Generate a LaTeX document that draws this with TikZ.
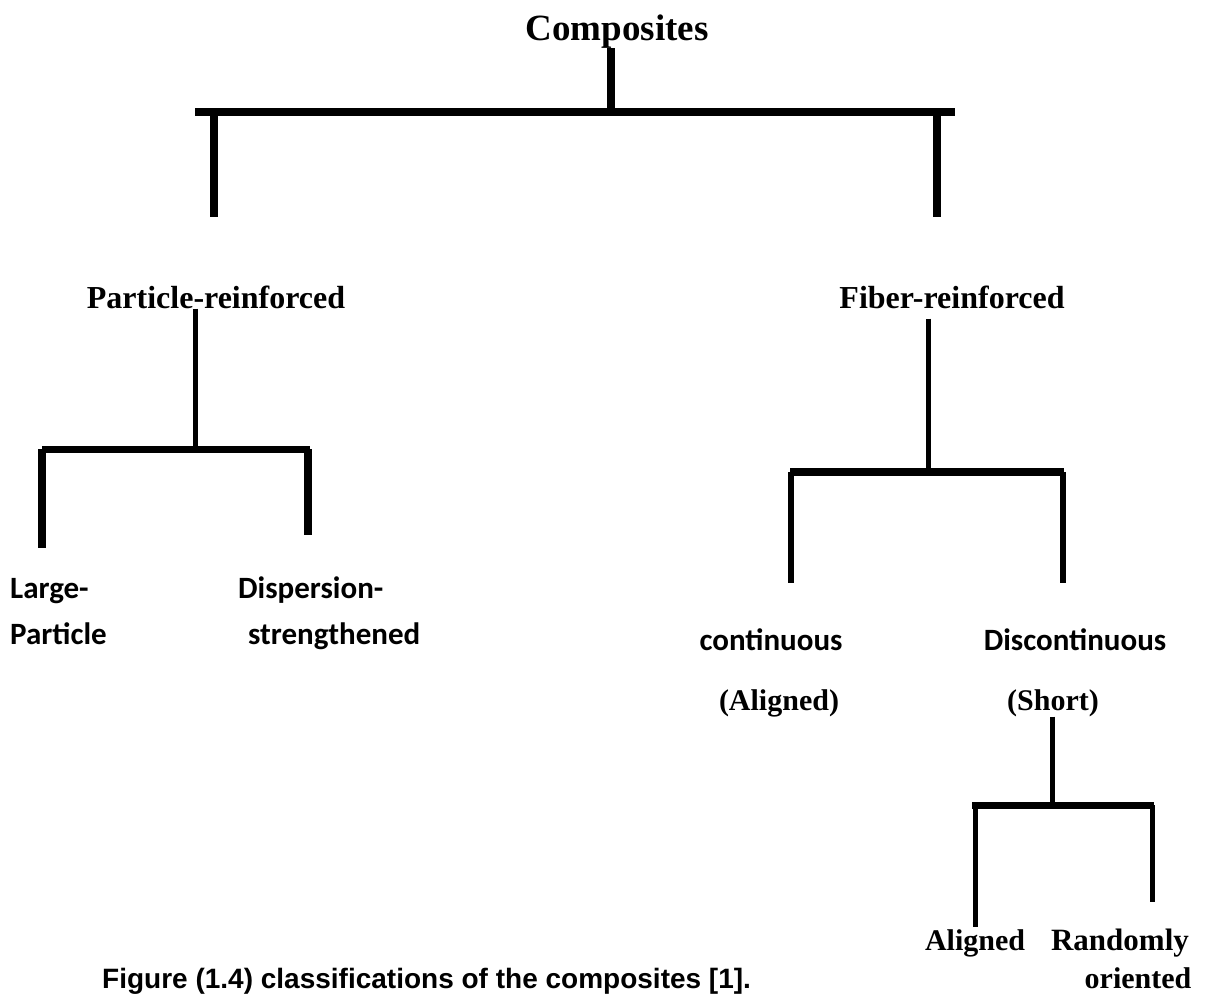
\documentclass[tikz,border=0pt]{standalone}
\usepackage{fontspec}
\setmainfont{Liberation Serif}
\newfontfamily\calib{Carlito}
\newfontfamily\arialf{Liberation Sans}
\begin{document}
\begin{tikzpicture}[x=1pt,y=-1pt,
  tnr/.style={font=\bfseries\fontsize{32}{36}\selectfont, inner sep=0pt, anchor=base},
  tnrs/.style={font=\bfseries\fontsize{30}{34}\selectfont, inner sep=0pt, anchor=base},
  cal/.style={font=\calib\bfseries\fontsize{31}{36}\selectfont, inner sep=0pt, anchor=base west},
  capt/.style={font=\arialf\bfseries\fontsize{28}{32}\selectfont, inner sep=0pt, anchor=base west},
  wA/.style={line width=8pt},
  wB/.style={line width=7pt},
  wC/.style={line width=6pt},
  wD/.style={line width=5pt}]
\useasboundingbox (0,0) rectangle (1226,996);
% labels
\node[tnr, font=\bfseries\fontsize{37}{40}\selectfont] (comp) at (617,40) {Composites};
\node[tnr] (part) at (216,308) {Particle-reinforced};
\node[tnr] (fib) at (952,308) {Fiber-reinforced};
\node[cal] (large) at (10,598) {Large-};
\node[cal] (lpart) at (10,644) {Particle};
\node[cal] (disp) at (238,598) {Dispersion-};
\node[cal] (streng) at (248,644) {strengthened};
\node[cal, anchor=base] (cont) at (771,650) {continuous};
\node[cal, anchor=base] (disc) at (1075,650) {Discontinuous};
\node[tnrs] (al) at (779,710) {(Aligned)};
\node[tnrs] (short) at (1053,710) {(Short)};
\node[tnrs] (align) at (975,950) {Aligned};
\node[tnrs, font=\bfseries\fontsize{31}{34}\selectfont] (rand) at (1120,950) {Randomly};
\node[tnrs] (orient) at (1138,988) {oriented};
\node[capt] (cap) at (102,988) {Figure (1.4) classifications of the composites [1].};
% junction coordinates
\coordinate (j0) at (611,112);
\coordinate (t1) at (195,112);
\coordinate (t2) at (955,112);
\coordinate (d1) at (214,217);
\coordinate (d2) at (937,217);
\coordinate (p0) at (195,449);
\coordinate (p1) at (42,449);
\coordinate (p2) at (310,449);
\coordinate (pd1) at (42,548);
\coordinate (pd2) at (308,535);
\coordinate (f0) at (928,472);
\coordinate (f1) at (790,472);
\coordinate (f2) at (1064,472);
\coordinate (fd1) at (791,583);
\coordinate (fd2) at (1063,583);
\coordinate (s0) at (1052,805);
\coordinate (s1) at (972,805);
\coordinate (s2) at (1154,805);
\coordinate (sd1) at (975,927);
\coordinate (sd2) at (1152,902);
% top level
\draw[wA] (comp.south -| j0) -- (j0);
\draw[wA] (t1) -- (t2);
\draw[wA] (d1 |- t1) -- (d1);
\draw[wA] (d2 |- t2) -- (d2);
% particle branch
\draw[wD] (part.south -| p0) -- (p0);
\draw[wB] (p1) -- (p2);
\draw[wA] (p1) -- (pd1);
\draw[wA] (pd2 |- p2) -- (pd2);
% fiber branch
\draw[wD] ([yshift=-10pt]fib.south -| f0) -- (f0);
\draw[wA] (f1) -- (f2);
\draw[wC] (fd1 |- f1) -- (fd1);
\draw[wC] (fd2 |- f2) -- (fd2);
% short branch
\draw[wD] (short.south -| s0) -- (s0);
\draw[wB] (s1) -- (s2);
\draw[wD] (sd1 |- s1) -- (sd1);
\draw[wD] (sd2 |- s2) -- (sd2);
\end{tikzpicture}
\end{document}
